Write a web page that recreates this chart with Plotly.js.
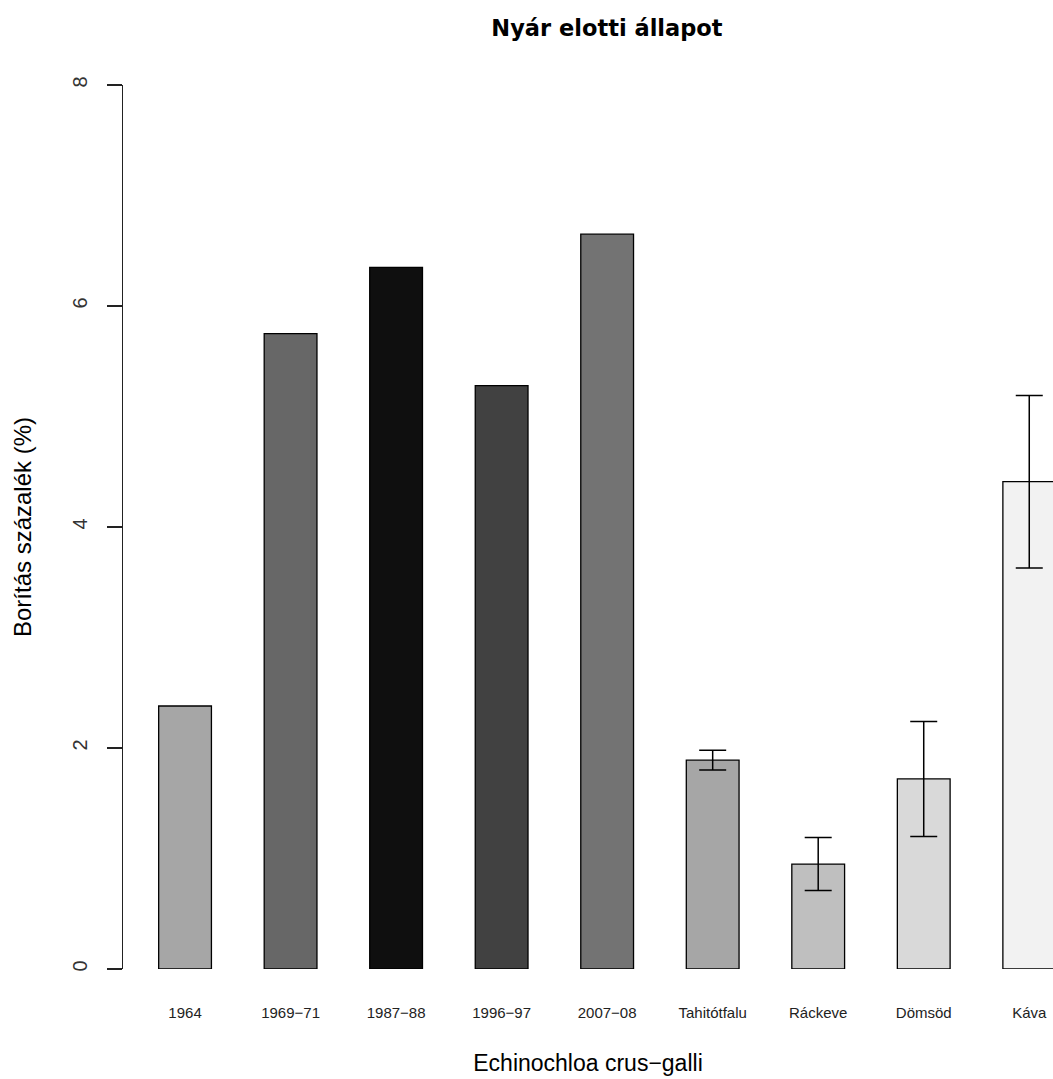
<!DOCTYPE html>
<html>
<head>
<meta charset="utf-8">
<script src="https://cdn.plot.ly/plotly-3.0.1.min.js"></script>
<style>html,body{margin:0;padding:0;background:#fff;}#chart{width:1053px;height:1079px;}</style>
</head>
<body>
<div id="chart"></div>
<script>
// Historical surveys (no error bars)
const periodLabels = ["1964", "1969\u221271", "1987\u221288", "1996\u221297", "2007\u221208"];
const periodValues = [2.38, 5.75, 6.35, 5.28, 6.65];
const periodColors = ["#a6a6a6", "#676767", "#0f0f0f", "#414141", "#737373"];

// Current sites (with error bars)
const siteLabels = ["Tahitótfalu", "Ráckeve", "Dömsöd", "Káva"];
const siteValues = [1.89, 0.95, 1.72, 4.41];
const siteErrors = [0.09, 0.24, 0.52, 0.78];
const siteColors = ["#a6a6a6", "#bfbfbf", "#d9d9d9", "#f2f2f2"];

const allLabels = periodLabels.concat(siteLabels);
const yTicks = [0, 2, 4, 6, 8];

const font = "Liberation Sans, Arial, sans-serif";

const traces = [
  {
    type: "bar",
    x: periodLabels,
    y: periodValues,
    width: 0.5,
    marker: {color: periodColors, line: {color: "#000", width: 1.3}},
    hoverinfo: "x+y"
  },
  {
    type: "bar",
    x: siteLabels,
    y: siteValues,
    width: 0.5,
    marker: {color: siteColors, line: {color: "#000", width: 1.3}},
    error_y: {type: "data", array: siteErrors, visible: true, color: "#000", thickness: 1.5, width: 13.5},
    hoverinfo: "x+y"
  }
];

const layout = {
  width: 1053,
  height: 1079,
  margin: {l: 123, r: 0, t: 85, b: 110},
  paper_bgcolor: "#fff",
  plot_bgcolor: "#fff",
  showlegend: false,
  barmode: "overlay",
  font: {family: font, color: "#000"},
  title: {
    text: "<b>Nyár elotti állapot</b>",
    x: 0.5204, xref: "paper", xanchor: "center",
    y: 0.974, yref: "container", yanchor: "middle",
    font: {family: "DejaVu Sans, sans-serif", size: 22.5, color: "#000"}
  },
  xaxis: {
    type: "category",
    categoryorder: "array",
    categoryarray: allLabels,
    range: [-0.588, 8.225],
    showline: false,
    showgrid: false,
    zeroline: false,
    ticks: "",
    ticklabelstandoff: 33,
    tickfont: {family: font, size: 15, color: "#222"},
    title: {text: "Echinochloa crus\u2212galli", font: {family: font, size: 23, color: "#000"}, standoff: 34}
  },
  yaxis: {
    range: [0, 8],
    tickvals: yTicks,
    ticktext: yTicks.map(String),
    showline: true,
    linecolor: "#222",
    linewidth: 1.3,
    showgrid: false,
    zeroline: false,
    ticks: "outside",
    ticklen: 15,
    tickwidth: 1.3,
    tickcolor: "#222",
    tickangle: -90,
    ticklabelstandoff: 12,
    tickfont: {family: font, size: 20, color: "#333"},
    title: {text: "Borítás százalék (%)", font: {family: font, size: 24, color: "#000"}, standoff: 30}
  }
};

Plotly.newPlot("chart", traces, layout, {displayModeBar: false, staticPlot: true});
</script>
</body>
</html>
